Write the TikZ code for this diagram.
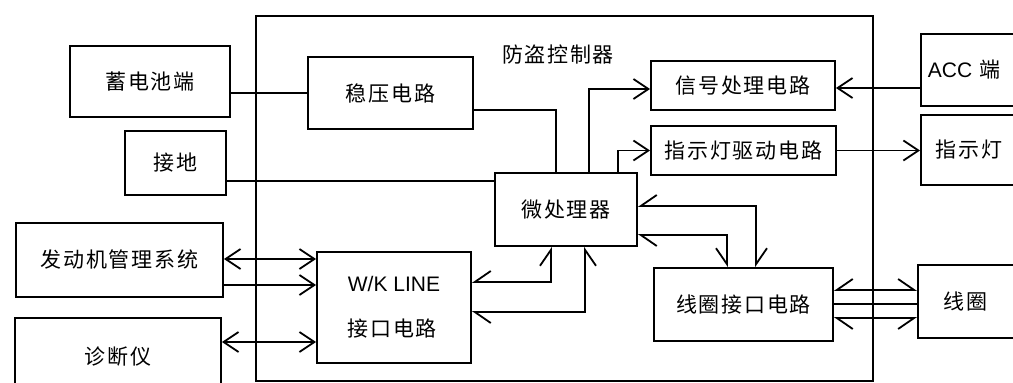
\documentclass[tikz,border=0pt]{standalone}
\usepackage{fontspec}
\setmainfont{Liberation Sans}
\newfontfamily\cjk[LetterSpace=8]{Noto Sans CJK SC}
\usetikzlibrary{arrows.meta}
\tikzset{
  box/.style={draw, line width=1.8pt, inner sep=0pt},
  ln/.style={line width=1.8pt},
  barb/.tip={Straight Barb[length=15pt,width=20pt]},
  hpL/.tip={Straight Barb[harpoon,length=16pt,width=22pt]},
  hpR/.tip={Straight Barb[harpoon,swap,length=16pt,width=22pt]},
}
\begin{document}
\begin{tikzpicture}[x=1pt,y=-1pt,every node/.style={font=\fontsize{21}{25}\selectfont}]
\clip (0,0) rectangle (1013,383);
% controller frame
\node[box, minimum width=617pt, minimum height=365pt] (ctrl) at (564.5,198.5) {};
\node (title) at (558,55) {\cjk 防盗控制器};
% outside blocks
\node[box, minimum width=160pt, minimum height=71pt] (bat) at (150,81.5) {\cjk 蓄电池端};
\node[box, minimum width=101pt, minimum height=64pt] (gnd) at (175.5,163) {\cjk 接地};
\node[box, minimum width=207pt, minimum height=74pt] (ems) at (119.5,260) {\cjk 发动机管理系统};
\node[box, minimum width=206pt, minimum height=78pt] (diag) at (118,357) {\cjk 诊断仪};
\node[box, anchor=west, minimum height=72pt, text width=96pt, inner xsep=7pt, align=left] (acc) at (920,70) {ACC {\cjk 端}};
\node[box, anchor=west, minimum height=70pt, text width=80pt, inner xsep=15pt, align=left] (lamp) at (920,150) {\cjk 指示灯};
\node[box, anchor=west, minimum height=73pt, text width=58pt, inner xsep=26pt, align=left] (coil) at (917,301.5) {\cjk 线圈};
% inner blocks
\node[box, minimum width=165pt, minimum height=72pt] (reg) at (390.5,93) {\cjk 稳压电路};
\node[box, minimum width=142pt, minimum height=73pt] (up) at (566,209.5) {\cjk 微处理器};
\node[box, minimum width=154pt, minimum height=111pt, align=left] (wk) at (394,307.5) {W/K LINE\\[20pt]{\cjk 接口电路}};
\node[box, minimum width=184pt, minimum height=49pt] (sig) at (743,85.5) {\cjk 信号处理电路};
\node[box, minimum width=185pt, minimum height=49pt] (ind) at (743.5,150.5) {\cjk 指示灯驱动电路};
\node[box, minimum width=179pt, minimum height=73pt] (coili) at (743.5,304.5) {\cjk 线圈接口电路};
% connectors
\draw[ln] (bat.east |- reg.west) -- (reg.west);
\draw[ln] (reg.east |- 0,110) -| (up.north -| 556,0);
\draw[ln] (gnd.east |- 0,181) -- (up.west |- 0,181);
\draw[ln,-barb] (up.north -| 589,0) |- (sig.west |- 0,89);
\draw[ln,-barb] (up.north -| 618,0) |- (ind.west);
\draw[ln,-barb] (acc.west |- 0,88) -- (sig.east |- 0,88);
\draw[ln,-barb] (ind.east) -- (ind.east -| lamp.west);
\draw[ln,barb-barb] (ems.east |- 0,259) -- (wk.west |- 0,259);
\draw[ln,-barb] (ems.east |- 0,285) -- (wk.west |- 0,285);
\draw[ln,barb-barb] (diag.east |- 0,342) -- (wk.west |- 0,342);
\draw[ln,hpR-hpL] (wk.east |- 0,282) -| (up.south -| 551,0);
\draw[ln,hpL-hpR] (wk.east |- 0,312) -| (up.south -| 585,0);
\draw[ln,hpR-hpL] (up.east |- 0,206) -| (coili.north -| 756,0);
\draw[ln,hpL-hpR] (up.east |- 0,235) -| (coili.north -| 727,0);
\draw[ln,hpR-hpL] (coili.east |- 0,290) -- (coil.west |- 0,290);
\draw[ln] (coili.east |- 0,304) -- (coil.west |- 0,304);
\draw[ln,hpL-hpR] (coili.east |- 0,318) -- (coil.west |- 0,318);
\end{tikzpicture}
\end{document}
